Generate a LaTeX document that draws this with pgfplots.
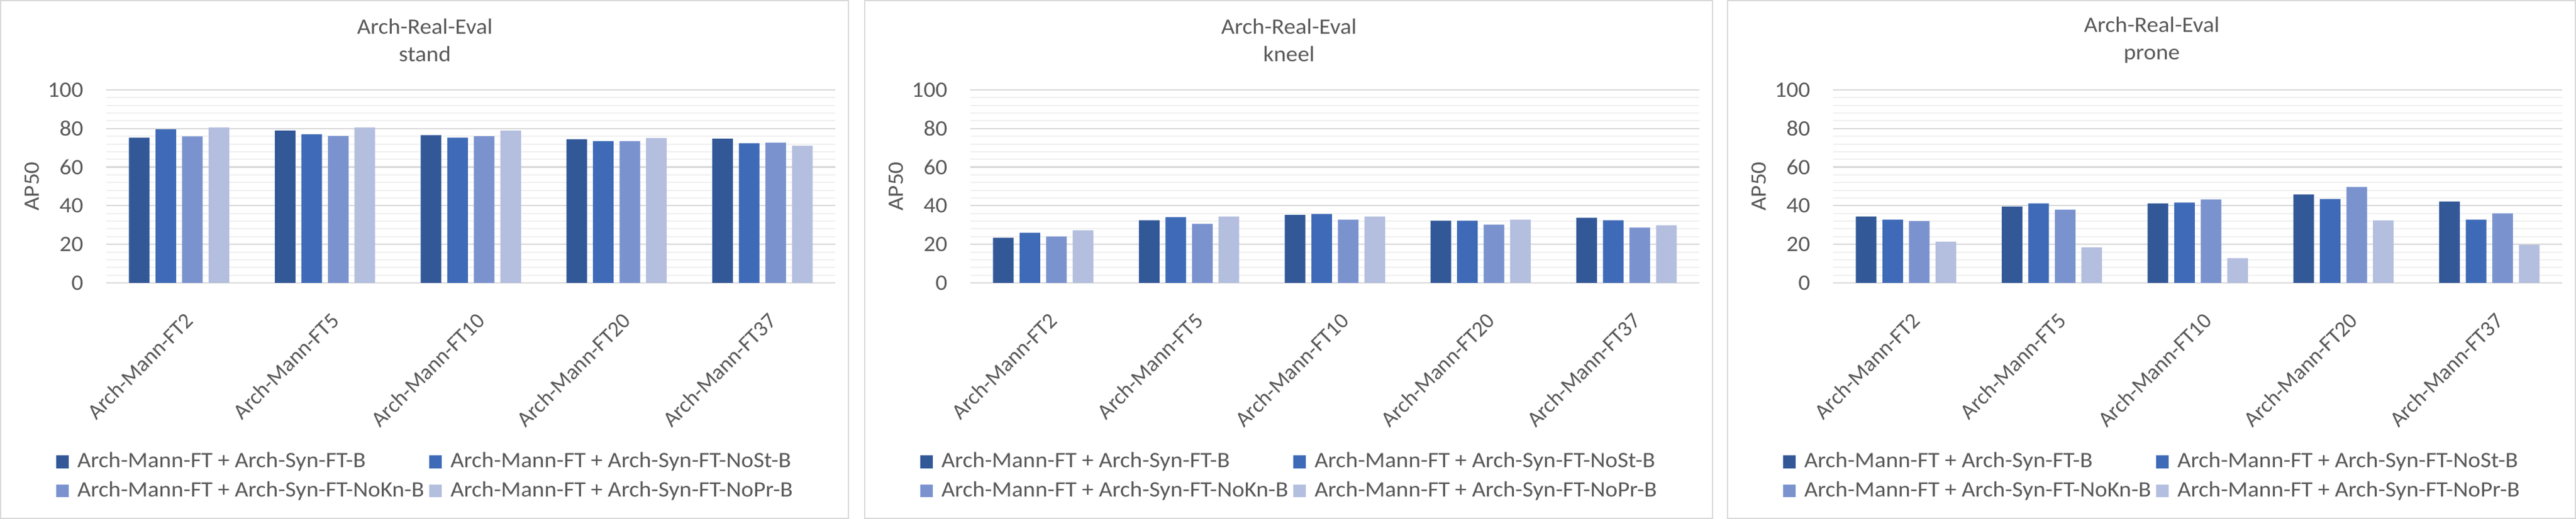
\documentclass[border=0pt]{standalone}
\usepackage{fontspec}
\setmainfont{Carlito}[FakeStretch=1.06]
\newfontfamily\plainfont{Carlito}
\usepackage{pgfplots}
\usepackage{pgfplotstable}
\pgfplotsset{compat=1.18}
\definecolor{cA}{HTML}{325898}
\definecolor{cB}{HTML}{3E6AB7}
\definecolor{cC}{HTML}{7A93CF}
\definecolor{cD}{HTML}{B4BEDE}
\definecolor{txt}{HTML}{595959}
\definecolor{gmaj}{HTML}{D9D9D9}
\definecolor{gmin}{HTML}{F0F0F0}
\definecolor{bord}{HTML}{D9D9D9}

\pgfplotstableread{
x a b c d
0 75.3 79.6 75.9 80.5
1 78.9 77.0 76.2 80.5
2 76.6 75.3 76.0 78.9
3 74.4 73.4 73.4 75.0
4 74.7 72.4 72.7 71.1
}\standtab
\pgfplotstableread{
x a b c d
0 23.4 26.0 24.1 27.3
1 32.5 34.1 30.6 34.4
2 35.2 35.7 32.8 34.4
3 32.2 32.2 30.2 32.8
4 33.8 32.5 28.7 29.9
}\kneeltab
\pgfplotstableread{
x a b c d
0 34.4 32.8 32.1 21.3
1 39.6 41.2 38.0 18.4
2 41.2 41.6 43.2 12.8
3 45.8 43.5 49.7 32.4
4 42.2 32.8 36.0 19.7
}\pronetab

\newcommand{\fs}{\fontsize{8.8}{11}\selectfont}
\newcommand{\rl}[1]{\rotatebox{45}{\plainfont\fontsize{8.8}{11}\selectfont #1}}

\pgfplotsset{
  panel/.style={
    scale only axis, width=291.75pt, height=77.25pt,
    anchor=south west,
    ybar=2.375pt, bar width=8.25pt,
    xmin=-0.5, xmax=4.5, ymin=0, ymax=100,
    xtick={0,1,2,3,4},
    xticklabels={\rl{Arch-Mann-FT2},\rl{Arch-Mann-FT5},\rl{Arch-Mann-FT10},\rl{Arch-Mann-FT20},\rl{Arch-Mann-FT37}},
    ytick={0,20,40,60,80,100}, minor y tick num=4,
    /pgf/number format/assume math mode=true,
    ymajorgrids, yminorgrids,
    major grid style={gmaj, line width=0.55pt},
    minor grid style={gmin, line width=0.5pt},
    axis line style={draw=none},
    major tick length=0pt, minor tick length=0pt,
    tick label style={font=\fs, text=txt},
    yticklabel style={anchor=east, inner sep=0pt, xshift=-9pt},
    xticklabel style={anchor=north east, inner sep=0pt, xshift=6.4pt, yshift=-11.25pt},
    ylabel={AP50},
    ylabel style={at={(axis description cs:-0.102,0.5)}, anchor=center, font=\fs, text=txt},
    legend columns=2,
    legend cell align=left,
    legend style={draw=none, fill=none, at={(axis description cs:-0.0694,-0.85)}, anchor=north west,
      font=\fs, text=txt, inner sep=0pt, row sep=0pt,
      /tikz/every odd column/.append style={column sep=1.5pt}},
    legend image code/.code={\fill[#1] (0pt,-2.6pt) rectangle (5pt,2.6pt);},
  }
}

\begin{document}
\begin{tikzpicture}
\useasboundingbox (0,0) rectangle (1030.75pt,207.75pt);
\fill[white] (0,0) rectangle (1030.75pt,207.75pt);
\foreach \o in {0pt,345.75pt,691pt}{
  \draw[bord, line width=0.5pt] ([xshift=\o]0.25pt,0.25pt) rectangle ([xshift=\o]339.5pt,207.5pt);
}

\begin{axis}[panel, at={(42.5pt,94.5pt)}]
\addplot[fill=cA, draw=none] table[x=x,y=a]{\standtab};
\addplot[fill=cB, draw=none] table[x=x,y=b]{\standtab};
\addplot[fill=cC, draw=none] table[x=x,y=c]{\standtab};
\addplot[fill=cD, draw=none] table[x=x,y=d]{\standtab};
\legend{Arch-Mann-FT + Arch-Syn-FT-B, Arch-Mann-FT + Arch-Syn-FT-NoSt-B, Arch-Mann-FT + Arch-Syn-FT-NoKn-B, Arch-Mann-FT + Arch-Syn-FT-NoPr-B}
\end{axis}

\begin{axis}[panel, at={(388.25pt,94.5pt)}]
\addplot[fill=cA, draw=none] table[x=x,y=a]{\kneeltab};
\addplot[fill=cB, draw=none] table[x=x,y=b]{\kneeltab};
\addplot[fill=cC, draw=none] table[x=x,y=c]{\kneeltab};
\addplot[fill=cD, draw=none] table[x=x,y=d]{\kneeltab};
\legend{Arch-Mann-FT + Arch-Syn-FT-B, Arch-Mann-FT + Arch-Syn-FT-NoSt-B, Arch-Mann-FT + Arch-Syn-FT-NoKn-B, Arch-Mann-FT + Arch-Syn-FT-NoPr-B}
\end{axis}

\begin{axis}[panel, at={(733.5pt,94.5pt)}]
\addplot[fill=cA, draw=none] table[x=x,y=a]{\pronetab};
\addplot[fill=cB, draw=none] table[x=x,y=b]{\pronetab};
\addplot[fill=cC, draw=none] table[x=x,y=c]{\pronetab};
\addplot[fill=cD, draw=none] table[x=x,y=d]{\pronetab};
\legend{Arch-Mann-FT + Arch-Syn-FT-B, Arch-Mann-FT + Arch-Syn-FT-NoSt-B, Arch-Mann-FT + Arch-Syn-FT-NoKn-B, Arch-Mann-FT + Arch-Syn-FT-NoPr-B}
\end{axis}

\node[font=\fs, text=txt, align=center, inner sep=0pt] at (170pt,191.6pt) {Arch-Real-Eval\\[0pt]stand};
\node[font=\fs, text=txt, align=center, inner sep=0pt] at (515.75pt,191.6pt) {Arch-Real-Eval\\[0pt]kneel};
\node[font=\fs, text=txt, align=center, inner sep=0pt] at (861pt,191.6pt) {Arch-Real-Eval\\[0pt]prone};
\end{tikzpicture}
\end{document}
